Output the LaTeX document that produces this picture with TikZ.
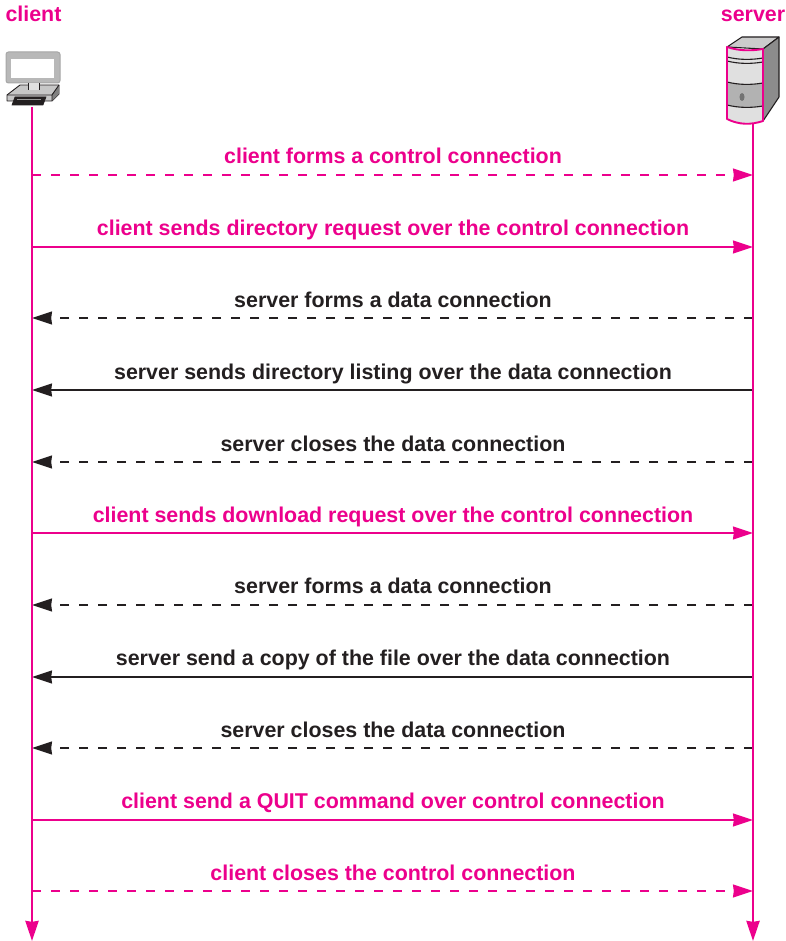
\documentclass[tikz,border=0pt]{standalone}
\usepackage{fontspec}
\setmainfont{Liberation Sans}
\usetikzlibrary{arrows.meta}
\definecolor{mag}{HTML}{EC008C}
\definecolor{ink}{HTML}{231F20}
\tikzset{
  life/.style={draw=mag,line width=2.7pt,-{Stealth[length=20pt,width=13pt,inset=.8pt]}},
  msg/.style={line width=1.5pt,-{Stealth[length=20pt,width=13pt,inset=.8pt]}},
  dsh/.style={dash pattern=on 9.3pt off 9.7pt},
  pk/.style={draw=mag,mag},
  bk/.style={draw=ink,ink},
  lab/.style={font=\fontsize{21.4}{24}\selectfont\bfseries,anchor=base,inner sep=0pt},
  actor/.style={font=\fontsize{21.4}{24}\selectfont\bfseries,text=mag,anchor=base,inner sep=0pt},
}
\begin{document}
\begin{tikzpicture}[x=1pt,y=-1pt]
\useasboundingbox (0,0) rectangle (785,941);
% client icon
\filldraw[fill=black!28,draw=black!35,line width=1pt,rounded corners=2.5pt] (6,52) rectangle (60,83);
\fill[white] (10.5,59.5) rectangle (53.5,78);
\filldraw[fill=black!22,draw=ink,line width=.9pt,line join=round] (7,95) -- (20,85) -- (59,85) -- (59,94) -- (52,101) -- (7,101) -- cycle;
\fill[black!50] (52,94) -- (59,86) -- (59,94) -- (52,101) -- cycle;
\draw[ink,line width=.9pt] (7,95) -- (52,95) -- (59,85) (52,95) -- (52,101);
\fill[black!12] (28,83) rectangle (39,90);
\draw[ink,line width=.9pt] (28,83) -- (28,90) (39,83) -- (39,90);
\filldraw[fill=ink,draw=ink,line width=.6pt] (15,97) -- (46,97) -- (43,105) -- (12,105) -- cycle;
\fill[black!40] (17,99) rectangle (41,100);
% server icon
\filldraw[fill=black!20,draw=ink,line width=1.1pt,line join=round] (727,47) -- (742,37) -- (779,37) -- (763,49) -- cycle;
\filldraw[fill=black!45,draw=ink,line width=1.1pt,line join=round] (763,49) -- (779,37) -- (779,97) -- (763,121) -- cycle;
\fill[black!12] (727,47) .. controls (739,51) and (751,51) .. (763,49) -- (763,121) .. controls (751,125) and (739,125) .. (727,119) -- cycle;
\fill[black!30] (727,82) .. controls (739,85) and (751,85) .. (763,83) -- (763,106) .. controls (751,108) and (739,108) .. (727,105) -- cycle;
\draw[ink,line width=1.1pt] (727,57) .. controls (739,60) and (751,60) .. (763,58);
\draw[ink,line width=1.1pt] (727,61) .. controls (739,64) and (751,64) .. (763,62);
\draw[ink,line width=1.1pt] (727,82) .. controls (739,85) and (751,85) .. (763,83);
\draw[ink,line width=1.1pt] (727,105) .. controls (739,108) and (751,108) .. (763,106);
\fill[black!55] (742,97) ellipse (2.5 and 4);
\draw[mag,line width=1.9pt,line join=round] (727,47) .. controls (739,51) and (751,51) .. (763,49) -- (763,121) .. controls (751,125) and (739,125) .. (727,119) -- cycle;
% actor labels
\node[actor] (clientname) at (33.5,22) {client};
\node[actor] (servername) at (753,22) {server};
% lifelines
\coordinate (ctop) at (32,107); \coordinate (cend) at (32,941);
\coordinate (stop) at (753,124); \coordinate (send) at (753,941);
% ends of messages
\foreach \n/\y in {1/175,2/247,3/318,4/390,5/462,6/533,7/605,8/677,9/748,10/820,11/891}{
  \coordinate (c\n) at (32,\y); \coordinate (s\n) at (753,\y);
}
% labels
\node[lab,text=mag] (l1) at (393,164) {client forms a control connection};
\node[lab,text=mag] (l2) at (393,236) {client sends directory request over the control connection};
\node[lab,text=ink] (l3) at (393,307) {server forms a data connection};
\node[lab,text=ink] (l4) at (393,379) {server sends directory listing over the data connection};
\node[lab,text=ink] (l5) at (393,451) {server closes the data connection};
\node[lab,text=mag] (l6) at (393,522) {client sends download request over the control connection};
\node[lab,text=ink] (l7) at (393,593) {server forms a data connection};
\node[lab,text=ink] (l8) at (393,665) {server send a copy of the file over the data connection};
\node[lab,text=ink] (l9) at (393,737) {server closes the data connection};
\node[lab,text=mag] (l10) at (393,808) {client send a QUIT command over control connection};
\node[lab,text=mag] (l11) at (393,880) {client closes the control connection};
% messages
\draw[msg,pk,dsh] (c1) -- (s1);
\draw[msg,pk] (c2) -- (s2);
\draw[msg,bk,dsh] (s3) -- (c3);
\draw[msg,bk] (s4) -- (c4);
\draw[msg,bk,dsh] (s5) -- (c5);
\draw[msg,pk] (c6) -- (s6);
\draw[msg,bk,dsh] (s7) -- (c7);
\draw[msg,bk] (s8) -- (c8);
\draw[msg,bk,dsh] (s9) -- (c9);
\draw[msg,pk] (c10) -- (s10);
\draw[msg,pk,dsh] (c11) -- (s11);
\draw[life] (ctop) -- (cend);
\draw[life] (stop) -- (send);
\end{tikzpicture}
\end{document}
